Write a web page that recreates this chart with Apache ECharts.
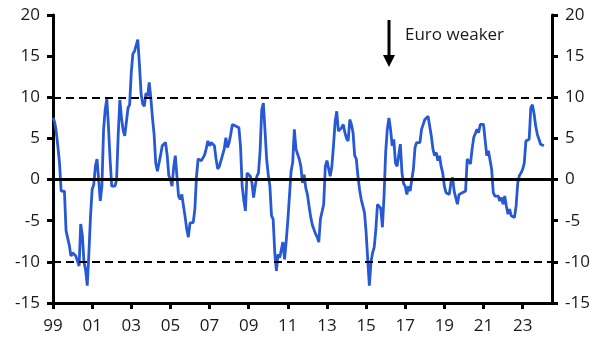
<!DOCTYPE html>
<html>
<head>
<meta charset="utf-8">
<script src="https://cdn.jsdelivr.net/npm/echarts@6/dist/echarts.min.js"></script>
<style>
	html,body{margin:0;padding:0;background:#fff;}
	#chart{width:607px;height:353px;}
</style>
</head>
<body>
<div id="chart"></div>
<script>
	// monthly series, Jan 1999 .. Feb 2024 (% y/y)
	const startYear = 1999
	const values = [
		7.5, 7.0, 5.8, 4.0, 2.0, -1.4, -1.4, -1.4, -6.2, -6.4, -8.0, -9.3, // 99
		-8.9, -9.0, -9.3, -9.5, -10.5, -5.4, -6.8, -10.0, -11.0, -12.9, -9.0, -4.5, // 00
		-1.2, -0.6, 1.6, 2.5, 2.3, -2.6, -0.8, 6.0, 8.5, 9.8, 6.5, 2.5, // 01
		-0.8, -0.8, -0.8, 0.0, 5.5, 9.7, 7.5, 6.0, 5.3, 7.0, 8.7, 9.1, // 02
		13.0, 15.3, 15.6, 15.8, 17.0, 14.0, 10.5, 9.2, 8.9, 10.5, 10.1, 11.8, // 03
		9.9, 7.5, 5.5, 2.0, 1.0, 0.8, 3.0, 4.1, 3.9, 4.5, 3.0, 0.5, // 04
		0.0, -0.8, 1.5, 2.9, 0.4, -2.0, -2.4, -1.8, -3.2, -4.5, -6.0, -7.0, // 05
		-5.3, -5.2, -5.2, -3.6, 0.4, 2.5, 2.5, 2.3, 2.3, 3.0, 3.8, 4.7, // 06
		4.1, 4.5, 4.5, 4.1, 2.5, 1.3, 1.6, 1.6, 3.0, 3.7, 5.1, 3.9, // 07
		4.5, 5.5, 6.7, 6.9, 6.5, 6.4, 6.3, 4.0, -0.8, -2.5, -3.8, 0.8, // 08
		0.6, 0.4, -0.4, -2.2, -0.8, 0.4, 0.8, 3.5, 8.5, 9.3, 6.0, 2.5, // 09
		0.6, -0.8, -4.4, -4.8, -8.9, -11.1, -9.1, -9.5, -9.3, -7.6, -9.7, -7.5, // 10
		-5.0, -2.0, 1.0, 2.1, 6.1, 3.7, 3.5, 2.5, 1.6, -0.4, 0.6, -1.0, // 11
		-1.8, -3.2, -4.5, -5.5, -5.6, -6.6, -7.0, -7.6, -4.8, -4.7, -3.0, 1.6, // 12
		2.3, 2.5, 0.4, 1.6, 4.1, 7.0, 8.3, 5.9, 6.1, 6.3, 6.7, 5.7, // 13
		5.0, 4.7, 7.3, 6.7, 5.7, 2.9, 2.5, 0.4, -1.2, -2.4, -2.6, -4.0, // 14
		-6.4, -9.7, -12.9, -10.0, -8.9, -8.2, -6.0, -3.0, -3.0, -3.5, -5.8, -2.0, // 15
		3.3, 6.1, 7.5, 6.1, 4.1, 4.9, 2.0, 1.6, 1.5, 4.3, 0.8, -0.5, // 16
		-0.8, -1.8, -0.8, -1.4, 0.0, 1.25, 3.9, 4.5, 4.3, 4.5, 6.1, 6.3, // 17
		7.3, 7.5, 7.7, 7.9, 5.3, 3.7, 2.9, 3.3, 2.3, 2.9, 1.6, 0.8, // 18
		-0.8, -1.6, -1.8, -1.8, -0.4, 0.25, -1.4, -1.4, -3.0, -1.8, -1.7, -1.6, // 19
		-1.5, -1.4, 2.5, 2.3, 1.9, 3.7, 5.1, 5.6, 6.1, 5.7, 6.7, 6.7, // 20
		6.7, 6.5, 2.9, 3.5, 3.3, 1.25, -1.6, -2.0, -2.0, -2.0, -2.6, -2.2, // 21
		-3.0, -2.0, -3.2, -4.2, -3.6, -4.4, -4.6, -4.6, -3.2, -0.4, 0.5, 0.8, // 22
		1.25, 2.0, 4.7, 4.8, 4.9, 8.7, 9.1, 8.0, 6.5, 5.5, 4.9, 4.3, // 23
		4.2, 4.1 // 24
	]
	const yTicks = { min: -15, max: 20, step: 5 }
	const refLines = [10, -10]
	const noteText = 'Euro weaker'

	const fontFamily = '"Open Sans", Lato, sans-serif'
	const lineData = values.map((v, i) => [startYear + i / 12, v])

	const chart = echarts.init(document.getElementById('chart'), null, { renderer: 'canvas' })

	const yAxisBase = {
		type: 'value',
		min: yTicks.min,
		max: yTicks.max,
		interval: yTicks.step,
		splitLine: { show: false },
		axisLine: { show: true, lineStyle: { color: '#000', width: 3 } },
		axisTick: { show: true, length: 6, lineStyle: { color: '#000', width: 3 } },
		axisLabel: { color: '#1a1a1a', fontSize: 17, fontFamily: fontFamily, margin: 13 }
	}

	const option = {
		backgroundColor: '#fff',
		animation: false,
		grid: { left: 53, right: 55, top: 15, bottom: 50, containLabel: false },
		xAxis: {
			type: 'value',
			min: 1999,
			max: 2024.5,
			interval: 2,
			splitLine: { show: false },
			axisLine: { show: true, onZero: false, lineStyle: { color: '#000', width: 3 } },
			axisTick: { show: true, length: 6, lineStyle: { color: '#000', width: 3 } },
			axisLabel: {
				color: '#1a1a1a', fontSize: 17, fontFamily: fontFamily, margin: 15,
				showMaxLabel: false,
				formatter: function (v) {
					if (Math.round(v) !== v) return ''
					return String(v).slice(2)
				}
			}
		},
		yAxis: [
			Object.assign({}, yAxisBase, { position: 'left' }),
			Object.assign({}, yAxisBase, { position: 'right' })
		],
		series: [{
			type: 'line',
			data: lineData,
			showSymbol: false,
			symbol: 'none',
			lineStyle: { color: '#2759d4', width: 2.8 },
			z: 3,
			markLine: {
				silent: true,
				symbol: 'none',
				label: { show: false },
				data: [
					{ yAxis: 0, lineStyle: { color: '#000', width: 3, type: 'solid' } }
				].concat(refLines.map(v => ({ yAxis: v, lineStyle: { color: '#000', width: 2, type: [8, 5] } })))
			}
		}],
		graphic: [
			{
				type: 'line',
				shape: { x1: 389, y1: 20, x2: 389, y2: 57 },
				style: { stroke: '#000', lineWidth: 3 }
			},
			{
				type: 'polygon',
				shape: { points: [[383, 55], [395, 55], [389, 67]] },
				style: { fill: '#000' }
			},
			{
				type: 'text',
				left: 405,
				top: 27,
				style: { text: noteText, fill: '#1a1a1a', fontSize: 17, fontFamily: fontFamily }
			}
		]
	}

	chart.setOption(option)
</script>
</body>
</html>
